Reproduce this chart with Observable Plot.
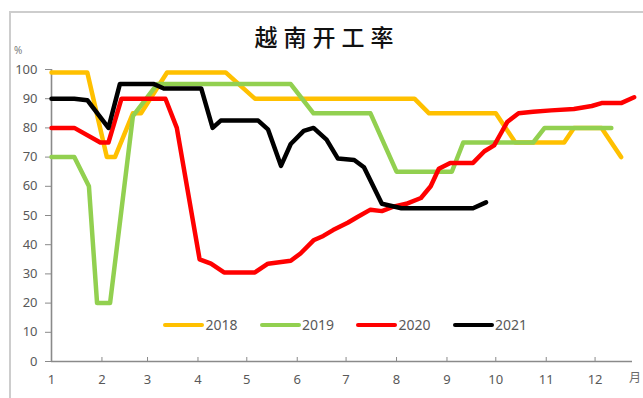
<!DOCTYPE html>
<html>
<head>
<meta charset="utf-8">
<script src="https://cdn.jsdelivr.net/npm/d3@7"></script>
<script src="https://cdn.jsdelivr.net/npm/@observablehq/plot@0.6"></script>
<style>
  body { margin: 0; background: #fff; }
  #wrap { position: relative; width: 643px; height: 398px; overflow: hidden; font-family: "Noto Sans", sans-serif; }
  #border { position: absolute; left: 9px; top: 11px; width: 700px; height: 500px; border-left: 2px solid #cdcdcd; border-top: 2px solid #cdcdcd; }
  #chart { position: absolute; left: 0; top: 0; }
  #title { position: absolute; left: 0; top: 25px; width: 643px; padding-left: 11px; box-sizing: border-box; text-align: center;
           font-family: "Noto Sans CJK SC", sans-serif; font-weight: 500; font-size: 23px; line-height: 23px; letter-spacing: 6px; color: #111; }
  #pct { position: absolute; left: 14px; top: 44px; font-size: 10px; line-height: 12px; color: #7a7a7a; }
  #month { position: absolute; left: 629px; top: 369px; font-family: "Noto Sans CJK SC", sans-serif; font-size: 12px; line-height: 16px; color: #6a6a6a; }
  #legend { position: absolute; left: 163px; top: 315px; height: 20px; display: flex; }
  .item { width: 96.5px; display: flex; align-items: center; height: 20px; }
  .sw { width: 41px; height: 4.5px; border-radius: 2px; margin-right: 1.5px; }
  .lt { font-size: 14px; color: #595959; line-height: 20px; }
</style>
</head>
<body>
<div id="wrap">
  <div id="chart"></div>
  <div id="border"></div>
  <div id="title"></div>
  <div id="pct"></div>
  <div id="month"></div>
  <div id="legend"></div>
</div>
<script>
const titleText = "越南开工率";
const yUnit = "%";
const xUnit = "月";
const years = ["2018", "2019", "2020", "2021"];
const colors = ["#FFC000", "#92D050", "#FF0000", "#000000"];
const monthStartDays = [0, 31, 59, 90, 120, 151, 181, 212, 243, 273, 304, 334];
const monthLabels = ["1", "2", "3", "4", "5", "6", "7", "8", "9", "10", "11", "12"];
const yTicks = [0, 10, 20, 30, 40, 50, 60, 70, 80, 90, 100];

const day2018 = [0, 22, 34, 39, 50, 55, 71, 107, 125, 223, 232, 273, 285, 315, 321, 338, 350];
const rate2018 = [99, 99, 70, 70, 85, 85, 99, 99, 90, 90, 85, 85, 75, 75, 80, 80, 70];

const day2019 = [0, 14, 23, 28, 36, 50, 65, 147, 161, 196, 212, 246, 253, 296, 303, 344];
const rate2019 = [70, 70, 60, 20, 20, 84, 95, 95, 85, 85, 65, 65, 75, 75, 80, 80];

const day2020 = [0, 14, 30, 35, 43, 70, 77, 91, 98, 106, 125, 133, 147, 153, 161, 167, 173, 182, 188, 196,
                 203, 210, 218, 227, 233, 238, 245, 259, 266, 272, 276, 280, 287, 296, 307, 321, 332, 338, 350, 358];
const rate2020 = [80, 80, 75, 75, 90, 90, 80, 35, 33.5, 30.5, 30.5, 33.5, 34.5, 37, 41.5, 43, 45, 47.5, 49.5, 52,
                  51.5, 53, 54, 56, 60, 66, 68, 68, 72, 74, 78, 82, 85, 85.5, 86, 86.5, 87.5, 88.5, 88.5, 90.5];

const day2021 = [0, 14, 22, 35, 42, 63, 69, 92, 99, 104, 127, 133, 141, 147, 155, 161, 169, 176, 186, 192, 203, 215, 259, 267];
const rate2021 = [90, 90, 89.5, 80, 95, 95, 93.5, 93.5, 80, 82.5, 82.5, 79.5, 67, 74.5, 79, 80, 76, 69.5, 69, 66.5, 54, 52.5, 52.5, 54.5];

const seriesDays = [day2018, day2019, day2020, day2021];
const seriesRates = [rate2018, rate2019, rate2020, rate2021];
const rows = years.flatMap((yr, i) => seriesDays[i].map((d, j) => ({year: yr, day: d, rate: seriesRates[i][j]})));

const axisGray = "#8a8a8a";
const labelGray = "#595959";

const chart = Plot.plot({
  width: 643,
  height: 398,
  marginLeft: 51,
  marginRight: 11,
  marginTop: 69,
  marginBottom: 37,
  style: {fontFamily: "Noto Sans, sans-serif", fontSize: "13px", color: labelGray, background: "transparent"},
  x: {domain: [0, 357]},
  y: {domain: [0, 100]},
  color: {domain: years, range: colors},
  marks: [
    Plot.ruleY([0], {stroke: axisGray, strokeWidth: 1.6}),
    Plot.ruleX([0], {stroke: axisGray, strokeWidth: 1.6}),
    Plot.axisY({ticks: yTicks, tickSize: 6, tickPadding: 8, stroke: axisGray, fill: labelGray, fontSize: 13, label: null}),
    Plot.axisX({ticks: monthStartDays, tickFormat: d => monthLabels[monthStartDays.indexOf(d)], tickSize: -4, tickPadding: 17,
                stroke: axisGray, fill: labelGray, fontSize: 13, label: null}),
    Plot.line(rows, {x: "day", y: "rate", z: "year", stroke: "year", strokeWidth: 4.5, strokeLinejoin: "round", strokeLinecap: "round"})
  ]
});
document.getElementById("chart").append(chart);
document.getElementById("title").textContent = titleText;
document.getElementById("pct").textContent = yUnit;
document.getElementById("month").textContent = xUnit;
const legend = document.getElementById("legend");
years.forEach((yr, i) => {
  const it = document.createElement("div");
  it.className = "item";
  const sw = document.createElement("div");
  sw.className = "sw";
  sw.style.background = colors[i];
  const t = document.createElement("span");
  t.className = "lt";
  t.textContent = yr;
  it.append(sw, t);
  legend.append(it);
});
</script>
</body>
</html>
